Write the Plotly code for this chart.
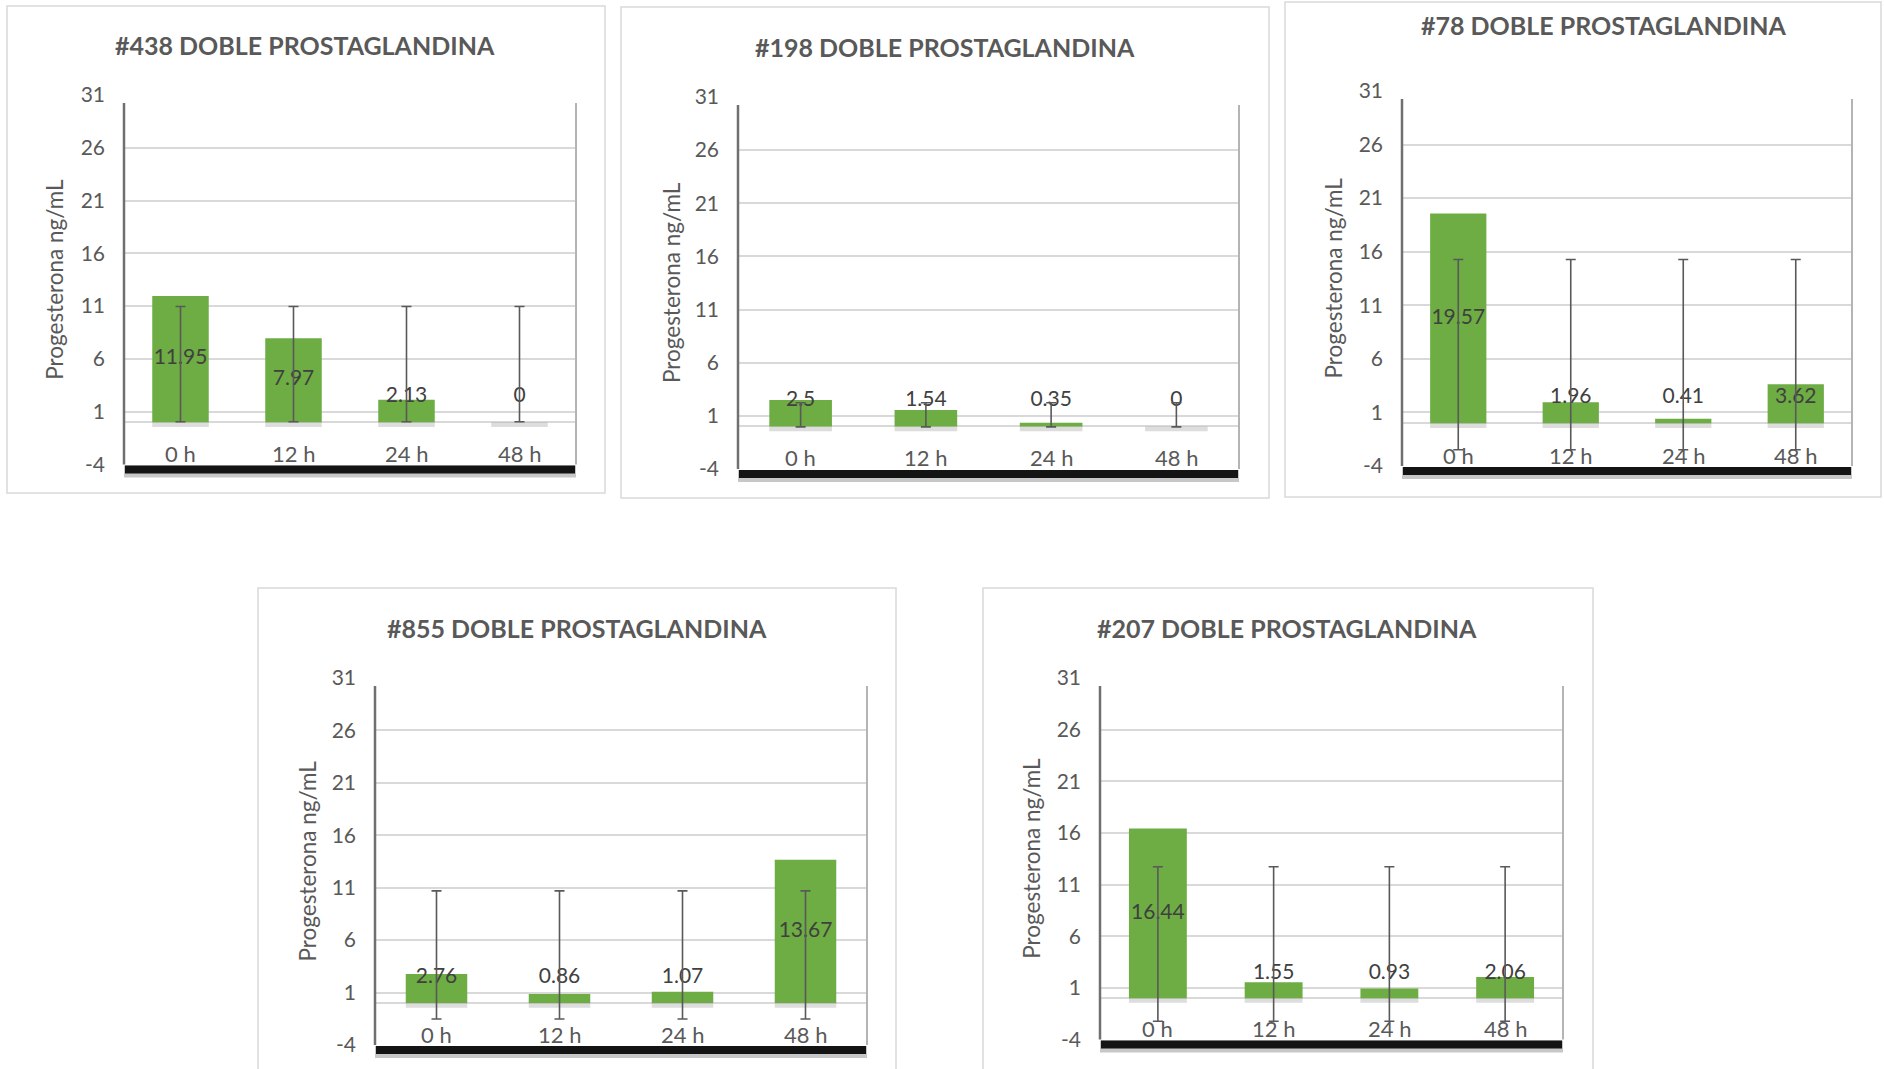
import plotly.graph_objects as go

W, H = 1884, 1069

categories = ["0 h", "12 h", "24 h", "48 h"]

titles = [
    "#438 DOBLE PROSTAGLANDINA",
    "#198 DOBLE PROSTAGLANDINA",
    "#78 DOBLE PROSTAGLANDINA",
    "#855 DOBLE PROSTAGLANDINA",
    "#207 DOBLE PROSTAGLANDINA",
]

values_438 = [11.95, 7.97, 2.13, 0]
values_198 = [2.5, 1.54, 0.35, 0]
values_78 = [19.57, 1.96, 0.41, 3.62]
values_855 = [2.76, 0.86, 1.07, 13.67]
values_207 = [16.44, 1.55, 0.93, 2.06]

# error bars (centre and half-length)
err_center = [5.51, 1.10, 6.39, 4.59, 5.25]
err_half = [5.46, 1.14, 8.88, 6.11, 7.48]

y_ticks = [-4, 1, 6, 11, 16, 21, 26, 31]
y_tick_text = ["-4", "1", "6", "11", "16", "21", "26", "31"]
y_title = "Progesterona ng/mL"

series = [values_438, values_198, values_78, values_855, values_207]

# layout in pixels: panel box, plot area, title centre, y-title centre x
panels = [
    dict(box=(7, 6, 605, 493), plot=(124, 95, 576, 464.5), title=(305, 45), ytx=55),
    dict(box=(621, 7, 1269, 498), plot=(738, 97, 1239, 469), title=(945, 47), ytx=671),
    dict(box=(1285, 2, 1881, 497), plot=(1402, 91, 1852, 466), title=(1603, 25), ytx=1333),
    dict(box=(258, 588, 896, 1100), plot=(375, 678, 867, 1045), title=(577, 628), ytx=307),
    dict(box=(983, 588, 1593, 1100), plot=(1100, 678, 1563, 1039.5), title=(1287, 628), ytx=1032),
]

FONT = "Lato"
GREEN = "#6dad43"
GRID = "#d9d9d9"
TXT = "#595959"


def px(x):
    return x / W


def py(y):
    return 1 - y / H


fig = go.Figure()
shapes = []
annotations = []

for i, (vals, p) in enumerate(zip(series, panels)):
    n = "" if i == 0 else str(i + 1)
    xa, ya = "x" + n, "y" + n
    bx0, by0, bx1, by1 = p["box"]
    x0, y0, x1, y1 = p["plot"]

    # panel frame
    shapes.append(dict(type="rect", xref="paper", yref="paper",
                       x0=px(bx0), x1=px(bx1), y0=py(by0), y1=py(by1),
                       line=dict(color=GRID, width=1.5), fillcolor="white", layer="below"))

    # bars
    fig.add_trace(go.Bar(x=categories, y=vals, xaxis=xa, yaxis=ya,
                         marker=dict(color=GREEN, line=dict(width=0)),
                         width=0.5, hoverinfo="x+y", showlegend=False))
    # data labels
    fig.add_trace(go.Scatter(x=categories, y=[max(v / 2, 2.4) for v in vals],
                             xaxis=xa, yaxis=ya, mode="text",
                             text=[f"{v:g}" for v in vals],
                             textfont=dict(family=FONT, size=21, color="#404040"),
                             textposition="middle center", showlegend=False,
                             hoverinfo="skip"))
    # error bars (standard deviation)
    fig.add_trace(go.Scatter(x=categories, y=[err_center[i]] * len(categories),
                             xaxis=xa, yaxis=ya, mode="markers",
                             marker=dict(size=1, opacity=0),
                             error_y=dict(type="constant", value=err_half[i],
                                          color="#595959", thickness=1.6, width=5),
                             showlegend=False, hoverinfo="skip"))

    dom_x = [px(x0), px(x1)]
    dom_y = [py(y1), py(y0)]
    fig.update_layout(**{
        ("xaxis" + n): dict(domain=dom_x, anchor=ya, type="category",
                             range=[-0.5, len(categories) - 0.5],
                             showgrid=False, zeroline=False, showline=False,
                             ticks="", showticklabels=False,
                             automargin=False, fixedrange=True),
        ("yaxis" + n): dict(domain=dom_y, anchor=xa, range=[-4, 31],
                             tickmode="array", tickvals=y_ticks, ticktext=y_tick_text,
                             showgrid=True, gridcolor=GRID,
                             gridwidth=1.5, zeroline=True, zerolinecolor=GRID,
                             zerolinewidth=2, showline=False, ticks="",
                             ticklabelstandoff=18,
                             tickfont=dict(family=FONT, size=21, color=TXT),
                             automargin=False, fixedrange=True),
    })

    # category labels, drawn inside the plot area just above its bottom edge
    for c in categories:
        annotations.append(dict(xref=xa, yref=ya + " domain", x=c,
                                y=11 / (y1 - y0), text=c, showarrow=False,
                                xanchor="center", yanchor="middle",
                                font=dict(family=FONT, size=22, color=TXT)))

    # plot-area shadow effect
    shapes.append(dict(type="rect", xref="paper", yref="paper",
                       x0=px(x0), x1=px(x1), y0=py(y1 + 13), y1=py(y1 + 1),
                       line=dict(width=0), fillcolor="rgba(0,0,0,0.22)", layer="above"))
    shapes.append(dict(type="rect", xref="paper", yref="paper",
                       x0=px(x0 + 1), x1=px(x1 - 1), y0=py(y1 + 9), y1=py(y1 + 1),
                       line=dict(width=0), fillcolor="#141414", layer="above"))
    shapes.append(dict(type="line", xref="paper", yref="paper",
                       x0=px(x0), x1=px(x0), y0=py(y0 + 8), y1=py(y1),
                       line=dict(color="#707070", width=2.5), layer="above"))
    shapes.append(dict(type="line", xref="paper", yref="paper",
                       x0=px(x1), x1=px(x1), y0=py(y0 + 8), y1=py(y1),
                       line=dict(color="#b4b4b4", width=2), layer="above"))
    # soft shadow below each bar
    for k in range(len(categories)):
        shapes.append(dict(type="rect", xref=xa, yref=ya,
                           x0=k - 0.25, x1=k + 0.25, y0=-0.45, y1=0,
                           line=dict(width=0), fillcolor="rgba(120,120,120,0.25)",
                           layer="between"))

    # title
    tx, ty = p["title"]
    annotations.append(dict(xref="paper", yref="paper", x=px(tx), y=py(ty),
                            text="<b>" + titles[i] + "</b>", showarrow=False,
                            xanchor="center", yanchor="middle",
                            font=dict(family=FONT, size=25, color=TXT)))
    # y-axis title
    annotations.append(dict(xref="paper", yref="paper", x=px(p["ytx"]),
                            y=py((y0 + y1) / 2), text=y_title, showarrow=False,
                            textangle=-90, xanchor="center", yanchor="middle",
                            font=dict(family=FONT, size=22.5, color=TXT)))

fig.update_layout(
    width=W, height=H,
    margin=dict(l=0, r=0, t=0, b=0, pad=0, autoexpand=False),
    paper_bgcolor="white", plot_bgcolor="rgba(0,0,0,0)",
    barmode="overlay",
    shapes=shapes, annotations=annotations,
    showlegend=False,
    font=dict(family=FONT, color=TXT),
)

fig.write_html(
    "out.html",
    config={"displayModeBar": False, "responsive": False},
    post_script="document.body.style.margin='0';document.body.style.overflow='hidden';",
)
